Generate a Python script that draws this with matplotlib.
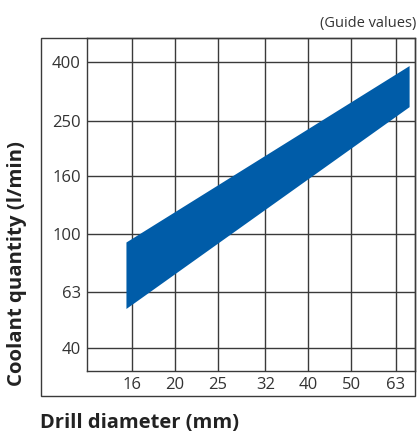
import matplotlib.pyplot as plt
from matplotlib.patches import Rectangle
from matplotlib.ticker import FixedLocator, NullLocator

# drill diameters (mm) shown on the x axis, coolant quantities (l/min) on y
x_ticks = [16, 20, 25, 32, 40, 50, 63]
y_ticks = [40, 63, 100, 160, 250, 400]

# recommended coolant band
band_x = [15.5, 67.5]
band_upper = [94, 390]
band_lower = [55, 280]

blue = '#005ca8'
line_col = '#3a3a3a'
text_col = '#333333'

plt.rcParams['font.family'] = ['Open Sans', 'DejaVu Sans']

fig = plt.figure(figsize=(4.17, 4.33), dpi=100)
W, H = 417, 433
# axes box in pixels: left 87, right 415, top 38, bottom 370.7
ax = fig.add_axes([87 / W, 1 - 370.7 / H, (415 - 87) / W, (370.7 - 38) / H])

ax.set_xscale('log')
ax.set_yscale('log')
ax.set_xlim(12.66, 69.6)
ax.set_ylim(33.3, 487)

ax.xaxis.set_major_locator(FixedLocator(x_ticks))
ax.yaxis.set_major_locator(FixedLocator(y_ticks))
ax.xaxis.set_minor_locator(NullLocator())
ax.yaxis.set_minor_locator(NullLocator())
ax.set_xticklabels([str(v) for v in x_ticks])
ax.set_yticklabels([str(v) for v in y_ticks])
ax.tick_params(length=0, labelsize=12, labelcolor=text_col, pad=4.5)

ax.grid(True, color=line_col, linewidth=1.0)
ax.set_axisbelow(True)
for s in ax.spines.values():
    s.set_color(line_col)
    s.set_linewidth(1.0)

ax.fill_between(band_x, band_lower, band_upper, color=blue, linewidth=0, zorder=3)

# outer frame around the whole chart block
fig.patches.append(Rectangle((41 / W, 1 - 396 / H), (415 - 41) / W, (396 - 38) / H,
                             transform=fig.transFigure, fill=False,
                             edgecolor=line_col, linewidth=1.0))

fig.text(17.5 / W, 1 - 264 / H, 'Coolant quantity (l/min)', rotation=90,
         ha='center', va='center', fontsize=14.7, fontweight='bold', color='#222222')
fig.text(40 / W, 1 - 428 / H, 'Drill diameter (mm)', ha='left', va='baseline',
         fontsize=14.5, fontweight='bold', color='#222222')
fig.text(416 / W, 1 - 27 / H, '(Guide values)', ha='right', va='baseline',
         fontsize=10.5, color=text_col)

fig.savefig('out.png', dpi=100)
